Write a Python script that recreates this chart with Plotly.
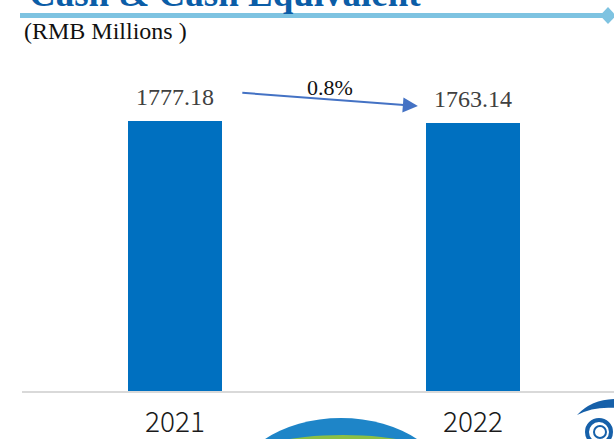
import plotly.graph_objects as go

# ---- data ----
categories = ["2021", "2022"]
values = [1777.18, 1763.14]
value_labels = ["1777.18", "1763.14"]
change_label = "0.8%"
title_text = "Cash & Cash Equivalent"
unit_text = "(RMB Millions\u00a0)"

W, H = 614, 439
ML, MR, MT, MB = 22, 0, 40, 48
PW, PH = W - ML - MR, H - MT - MB


def px(xp):
    return (xp - ML) / PW


def py(yp):
    return (H - MB - yp) / PH


BAR = "#0070C0"
SERIF = "Liberation Serif, Times New Roman, serif"
SANS = "Noto Sans CJK SC, Noto Sans, sans-serif"

fig = go.Figure()
fig.add_trace(go.Bar(
    x=categories, y=values, width=0.315,
    marker=dict(color=BAR, line=dict(width=0)),
    hoverinfo="skip", showlegend=False,
))

ymax = 2310
annotations = []
# value labels (category index positions)
for i, (v, t) in enumerate(zip(values, value_labels)):
    annotations.append(dict(
        x=i, y=v, xref="x", yref="y", text=t, showarrow=False,
        yanchor="bottom", yshift=9,
        font=dict(family=SERIF, size=24, color="#404040"),
    ))
# category labels
for i, c in enumerate(categories):
    annotations.append(dict(
        x=i, y=py(420), xref="x", yref="paper", text=c, showarrow=False,
        yanchor="middle",
        font=dict(family=SANS, size=28, color="#1a1a1a", weight=300),
    ))

# change arrow between the two labels
annotations.append(dict(
    x=0.815, y=values[1] + 112, ax=0.221, ay=values[0] + 186,
    xref="x", yref="y", axref="x", ayref="y",
    text="", showarrow=True, arrowhead=2, arrowsize=1.5, arrowwidth=2,
    arrowcolor="#4472C4",
))
annotations.append(dict(
    x=0.52, y=py(88), xref="x", yref="paper", text=change_label,
    showarrow=False, yanchor="middle",
    font=dict(family=SERIF, size=22, color="#111111"),
))

# title (cut off at the top) and unit text
annotations.append(dict(
    x=px(27), y=py(-6.5), xref="paper", yref="paper", text="<b>" + title_text + "</b>",
    showarrow=False, xanchor="left", yanchor="middle",
    font=dict(family=SERIF, size=37, color="#0B5DA7"),
))
annotations.append(dict(
    x=px(22), y=py(31), xref="paper", yref="paper", text=unit_text,
    showarrow=False, xanchor="left", yanchor="middle",
    font=dict(family=SERIF, size=24, color="#111111"),
))

shapes = [
    # title rule
    dict(type="line", xref="paper", yref="paper", x0=px(20), x1=px(604),
         y0=py(15.5), y1=py(15.5), line=dict(color="#7EC3E1", width=5)),
    dict(type="path", xref="paper", yref="paper",
         path=f"M {px(600)} {py(15.5)} L {px(608)} {py(7)} L {px(616)} {py(15.5)} L {px(608)} {py(24)} Z",
         fillcolor="#7EC3E1", line=dict(width=0)),
    # center logo (partly visible)
    dict(type="circle", xref="paper", yref="paper", x0=px(231), x1=px(451),
         y0=py(570), y1=py(418), fillcolor="#1E85C8", line=dict(width=0), layer="below"),
    dict(type="circle", xref="paper", yref="paper", x0=px(243), x1=px(443),
         y0=py(487), y1=py(435), fillcolor="#8CBF45", line=dict(width=0), layer="below"),
    # right logo (partly visible)
    dict(type="path", xref="paper", yref="paper",
         path=f"M {px(577)} {py(415)} Q {px(592)} {py(399)} {px(616)} {py(399)} L {px(616)} {py(408)} Q {px(594)} {py(406)} {px(577)} {py(415)} Z",
         fillcolor="#1660A9", line=dict(width=0)),
    dict(type="circle", xref="paper", yref="paper", x0=px(587), x1=px(611),
         y0=py(444), y1=py(420), fillcolor="rgba(0,0,0,0)", line=dict(color="#1660A9", width=4)),
    dict(type="circle", xref="paper", yref="paper", x0=px(594), x1=px(606),
         y0=py(438), y1=py(426), fillcolor="rgba(0,0,0,0)", line=dict(color="#1660A9", width=2)),
]

fig.update_layout(
    width=W, height=H,
    margin=dict(l=ML, r=MR, t=MT, b=MB),
    paper_bgcolor="white", plot_bgcolor="white",
    xaxis=dict(type="category", range=[-0.513, 1.473], showticklabels=False,
               showgrid=False, zeroline=False, showline=True,
               linecolor="#D9D9D9", linewidth=2, ticks=""),
    yaxis=dict(range=[0, ymax], visible=False, showgrid=False, zeroline=False),
    annotations=annotations, shapes=shapes,
    bargap=0,
)

fig.write_html(
    "out.html",
    config={"displayModeBar": False},
    post_script="document.body.style.margin='0';document.body.style.overflow='hidden';",
)
